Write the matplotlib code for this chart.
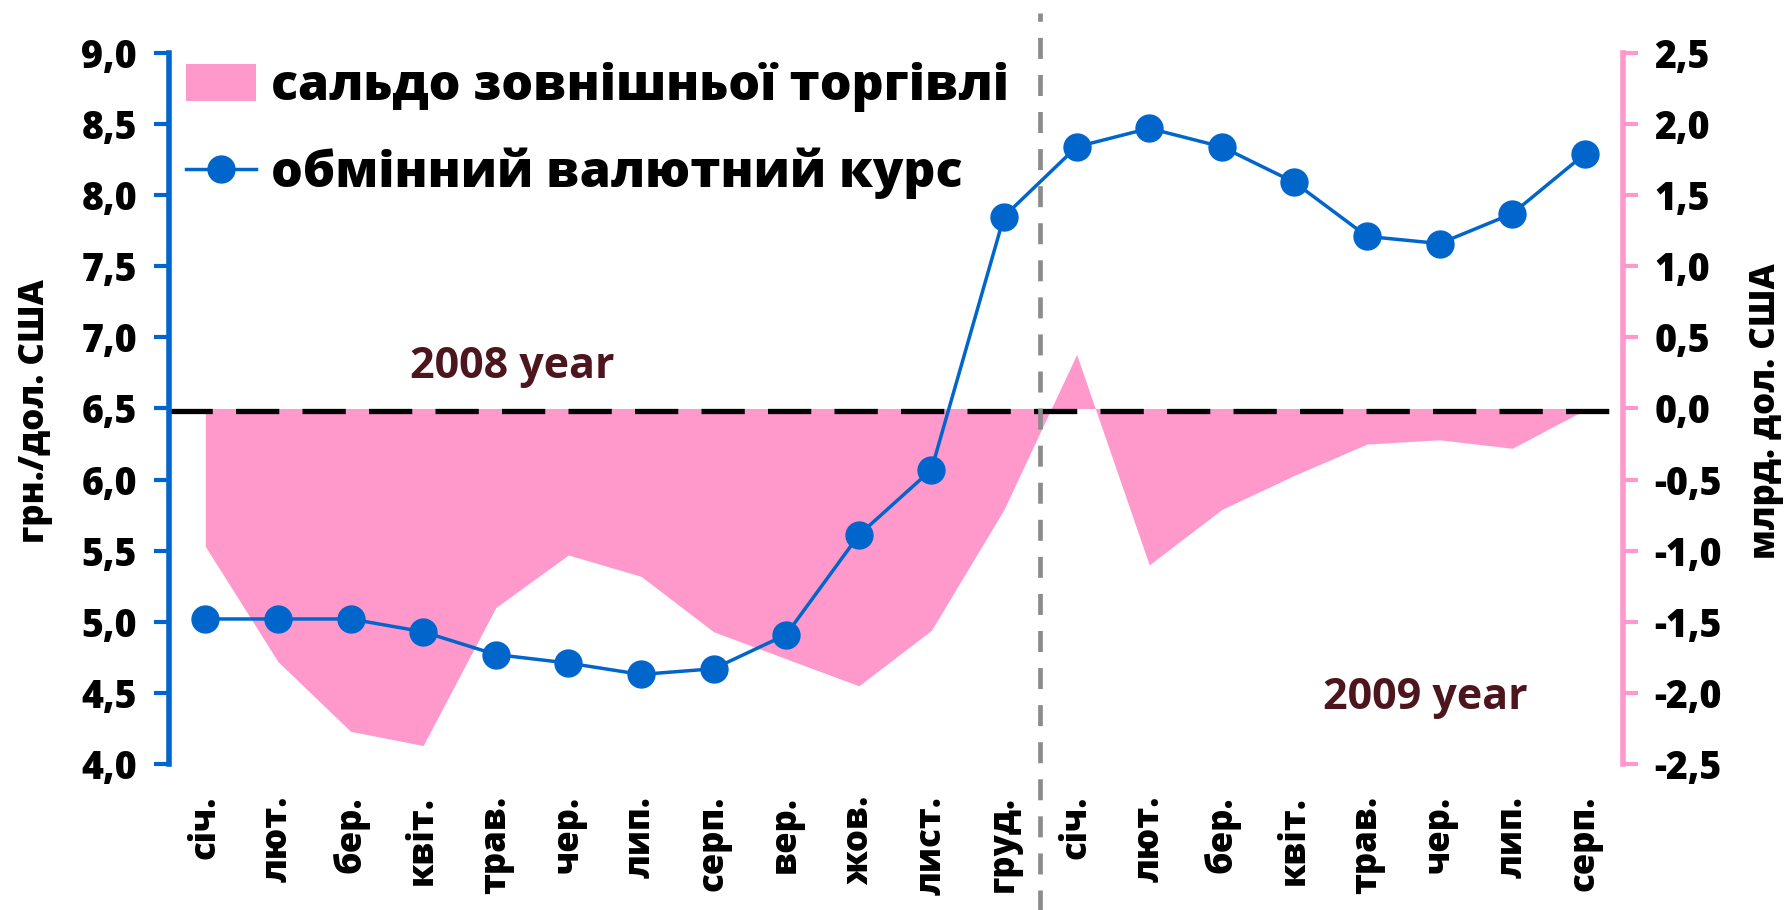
import matplotlib
matplotlib.use("Agg")
import matplotlib.pyplot as plt
from matplotlib.lines import Line2D
from matplotlib.patches import Patch
from matplotlib.ticker import FuncFormatter

plt.rcParams['font.family'] = ['Open Sans', 'DejaVu Sans']
plt.rcParams['font.weight'] = 800

months = ['січ.', 'лют.', 'бер.', 'квіт.', 'трав.', 'чер.', 'лип.', 'серп.',
          'вер.', 'жов.', 'лист.', 'груд.',
          'січ.', 'лют.', 'бер.', 'квіт.', 'трав.', 'чер.', 'лип.', 'серп.']
# грн./дол. США
rate = [5.02, 5.02, 5.02, 4.93, 4.77, 4.71, 4.63, 4.67, 4.91, 5.61, 6.07, 7.85,
        8.34, 8.47, 8.34, 8.09, 7.71, 7.66, 7.87, 8.29]
# млрд. дол. США
balance = [-0.97, -1.78, -2.27, -2.37, -1.40, -1.03, -1.18, -1.57, -1.76, -1.95, -1.56, -0.71,
           0.38, -1.10, -0.71, -0.47, -0.25, -0.22, -0.28, -0.01]

BLUE = '#0066CC'
PINK = '#FF99CC'
YEAR = '#4D151D'
x = list(range(len(months)))
comma = FuncFormatter(lambda v, p: f'{v:.1f}'.replace('.', ','))

fig = plt.figure(figsize=(17.89, 9.10), dpi=100)
ax = fig.add_axes([0.0945, 0.1604, 0.8125, 0.7814])
ax2 = ax.twinx()

# trade balance area (right axis)
ax2.fill_between(x, balance, 0, color=PINK, linewidth=0, zorder=1)
# dashed zero line sits just under the top edge of the area
ax2.axhline(-0.018, color='black', lw=3.8, dashes=(8.2, 4.4), zorder=2)
ax2.set_ylim(-2.5, 2.5)
ax2.set_yticks([-2.5, -2.0, -1.5, -1.0, -0.5, 0.0, 0.5, 1.0, 1.5, 2.0, 2.5])
ax2.yaxis.set_major_formatter(comma)
for s in ['left', 'top', 'bottom']:
    ax2.spines[s].set_visible(False)
ax2.spines['right'].set_color(PINK)
ax2.spines['right'].set_linewidth(4)
ax2.tick_params(axis='y', length=11, width=3, color=PINK, labelsize=27, pad=12)

# exchange rate (left axis)
ax.set_zorder(ax2.get_zorder() + 1)
ax.patch.set_visible(False)
ax.plot(x, rate, color=BLUE, lw=2.5, marker='o', ms=19.4, zorder=3)
ax.set_ylim(4.0, 9.0)
ax.set_xlim(-0.5, 19.52)
ax.set_yticks([4.0, 4.5, 5.0, 5.5, 6.0, 6.5, 7.0, 7.5, 8.0, 8.5, 9.0])
ax.yaxis.set_major_formatter(comma)
ax.set_xticks(x)
ax.set_xticklabels(months, rotation=90)
for s in ['right', 'top', 'bottom']:
    ax.spines[s].set_visible(False)
ax.spines['left'].set_color(BLUE)
ax.spines['left'].set_linewidth(4)
ax.tick_params(axis='y', length=11, width=3, color=BLUE, labelsize=27, pad=12)
ax.tick_params(axis='x', length=0, labelsize=25, pad=23)

# year separator
ax.plot([11.5, 11.5], [-0.21, 1.056], transform=ax.get_xaxis_transform(),
        color='#8C8C8C', lw=3.4, dashes=(4.45, 3.4), clip_on=False, zorder=5)

ax.text(2.82, 6.714, '2008 year', color=YEAR, fontsize=31, fontweight='bold',
        ha='left', va='baseline')
ax.text(15.4, 4.387, '2009 year', color=YEAR, fontsize=31, fontweight='bold',
        ha='left', va='baseline')

fig.text(0.0196, 0.548, 'грн./дол. США', rotation=90, fontsize=25, ha='center', va='center')
fig.text(0.987, 0.548, 'млрд. дол. США', rotation=90, fontsize=25, ha='center', va='center')

handles = [Patch(facecolor=PINK, edgecolor='none'),
           Line2D([], [], color=BLUE, lw=2.5, marker='o', ms=19.4)]
ax.legend(handles, ['сальдо зовнішньої торгівлі', 'обмінний валютний курс'],
          loc='upper left', bbox_to_anchor=(0.0117, 0.987), frameon=False,
          fontsize=36, handlelength=1.4, handleheight=0.76, handletextpad=0.3,
          labelspacing=0.7, borderpad=0, borderaxespad=0)

fig.savefig('out.png', dpi=100)
